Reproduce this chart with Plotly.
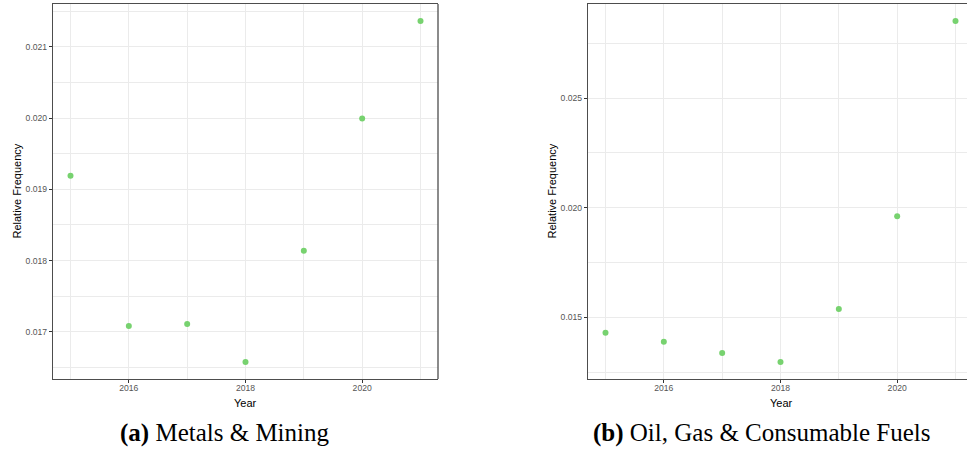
import plotly.graph_objects as go

years = [2015, 2016, 2017, 2018, 2019, 2020, 2021]
metals_mining = [0.019192, 0.017084, 0.017112, 0.016579, 0.018140, 0.019995, 0.021360]
oil_gas_fuels = [0.014301, 0.013891, 0.013374, 0.012964, 0.015380, 0.019605, 0.028511]

x_ticks = [2016, 2018, 2020]
x_minor = [2015, 2017, 2019, 2021]
y_ticks_a = [0.017, 0.018, 0.019, 0.020, 0.021]
y_minor_a = [0.0165, 0.0175, 0.0185, 0.0195, 0.0205, 0.0215]
y_ticks_b = [0.015, 0.020, 0.025]
y_minor_b = [0.0125, 0.0175, 0.0225, 0.0275]

captions = ["<b>(a)</b> Metals &amp; Mining", "<b>(b)</b> Oil, Gas &amp; Consumable Fuels"]

W, H = 967, 457
PT = 4
PB = 379
ya_dom = [(H - PB) / H, (H - PT) / H]
xa_dom = [53 / W, 438 / W]
xb_dom = [588 / W, 1.0]

pt_color = "#77d26f"
grid = "#ebebeb"
frame = "#4d4d4d"
tickfont = dict(family="Liberation Sans, Arial", size=8.6, color="#555555")

fig = go.Figure()
fig.add_trace(go.Scatter(x=years, y=metals_mining, mode="markers",
                         marker=dict(color=pt_color, size=6), xaxis="x", yaxis="y",
                         showlegend=False))
fig.add_trace(go.Scatter(x=years, y=oil_gas_fuels, mode="markers",
                         marker=dict(color=pt_color, size=6), xaxis="x2", yaxis="y2",
                         showlegend=False))

def xax(domain, rng, anchor):
    return dict(domain=domain, range=rng, anchor=anchor, tickvals=x_ticks,
                ticks="outside", ticklen=3, tickcolor="#333", tickwidth=1,
                tickfont=tickfont, ticklabelstandoff=-2,
                showgrid=True, gridcolor=grid, gridwidth=1,
                minor=dict(tickvals=x_minor, showgrid=True, gridcolor=grid, gridwidth=0.6, ticks=""),
                showline=True, linecolor=frame, linewidth=1.3, mirror=True,
                zeroline=False)

def yax(domain, rng, anchor, ticks, minor):
    return dict(domain=domain, range=rng, anchor=anchor, tickvals=ticks, tickformat=".3f",
                ticks="outside", ticklen=3, tickcolor="#333", tickwidth=1,
                tickfont=tickfont, showgrid=True, gridcolor=grid, gridwidth=1,
                minor=dict(tickvals=minor, showgrid=True, gridcolor=grid, gridwidth=0.6, ticks=""),
                showline=True, linecolor=frame, linewidth=1.3, mirror=False,
                zeroline=False)

px_per_year = (438 - 53) / 6.6
xb_right = 2014.7 + (W - 588) / px_per_year

fig.update_layout(
    width=W, height=H,
    margin=dict(l=0, r=0, t=0, b=0),
    paper_bgcolor="white", plot_bgcolor="white",
    xaxis=xax(xa_dom, [2014.7, 2021.3], "y"),
    yaxis=yax(ya_dom, [0.016340, 0.021599], "x", y_ticks_a, y_minor_a),
    xaxis2=xax(xb_dom, [2014.7, xb_right], "y2"),
    yaxis2=yax(ya_dom, [0.012187, 0.029288], "x2", y_ticks_b, y_minor_b),
)
# right border of panel (a)
fig.add_shape(type="line", xref="paper", yref="paper", x0=xa_dom[1], x1=xa_dom[1],
              y0=ya_dom[0], y1=ya_dom[1], line=dict(color=frame, width=1.3))

ann = []
title_font = dict(family="Liberation Sans, Arial", size=11, color="black")
ann.append(dict(x=245.5 / W, y=(H - 395) / H, xref="paper", yref="paper", text="Year",
                showarrow=False, font=title_font, xanchor="center", yanchor="top"))
ann.append(dict(x=781 / W, y=(H - 395) / H, xref="paper", yref="paper", text="Year",
                showarrow=False, font=title_font, xanchor="center", yanchor="top"))
ann.append(dict(x=16 / W, y=(H - 191.5) / H, xref="paper", yref="paper", text="Relative Frequency",
                showarrow=False, font=title_font, textangle=-90, xanchor="center", yanchor="middle"))
ann.append(dict(x=551 / W, y=(H - 191.5) / H, xref="paper", yref="paper", text="Relative Frequency",
                showarrow=False, font=title_font, textangle=-90, xanchor="center", yanchor="middle"))
cap_font = dict(family="Liberation Serif, Times New Roman", size=25, color="black")
ann.append(dict(x=225 / W, y=(H - 433) / H, xref="paper", yref="paper", text=captions[0],
                showarrow=False, font=cap_font, xanchor="center", yanchor="middle"))
ann.append(dict(x=762 / W, y=(H - 433) / H, xref="paper", yref="paper", text=captions[1],
                showarrow=False, font=cap_font, xanchor="center", yanchor="middle"))
fig.update_layout(annotations=ann)

fig.write_html("out.html")
